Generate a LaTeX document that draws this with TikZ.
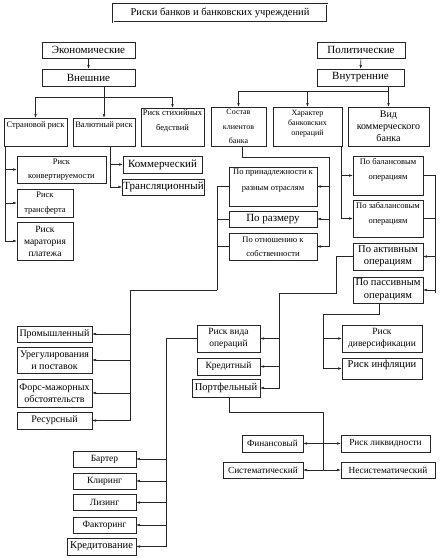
\documentclass[tikz,border=0pt]{standalone}
\usepackage{fontspec}
\setmainfont{Liberation Serif}
\usetikzlibrary{arrows.meta}

\begin{document}
\begin{tikzpicture}[
    x=1pt, y=-1pt,
    box/.style={draw=black!85, line width=0.6pt, align=center, inner sep=1pt, outer sep=0pt},
    wh/.style 2 args={minimum width=#1pt, minimum height=#2pt},
    fs/.style 2 args={font=\fontsize{#1}{#2}\selectfont},
    lift/.style={text depth=#1pt},
    conn/.style={draw=black!85, line width=0.6pt},
    >={Latex[length=4pt,width=2.6pt]}
]
    \useasboundingbox (0,0) rectangle (446,558);

    \node[box, double, double distance=1pt, wh={214}{18}, fs={10.5}{13}] (title) at (220,13) {Риски банков и банковских учреждений};

    \node[box, wh={93}{16}, fs={11}{13}] (econ) at (88.5,50) {Экономические};
    \node[box, wh={93}{17}, fs={11}{13}] (ext) at (88.5,77.5) {Внешние};
    \node[box, wh={88}{16}, fs={11}{13}] (pol) at (361,50) {Политические};
    \node[box, wh={87}{17}, fs={11}{13}] (int) at (360.5,77.5) {Внутренние};

    % second row
    \node[box, wh={63}{28}, fs={8.5}{9}, lift=14] (country) at (35.5,132) {Страновой риск};
    \node[box, wh={62}{28}, fs={8.5}{9}, lift=14] (currency) at (104,132) {Валютный риск};
    \node[box, wh={63}{38}, fs={8.5}{15}, lift=13] (natural) at (172.5,127) {Риск стихийных\\бедствий};
    \node[box, wh={55}{39}, fs={8}{14.5}] (clients) at (238.5,126.5) {Состав\\клиентов\\банка};
    \node[box, wh={69}{39}, fs={8}{10}, lift=8] (charact) at (307.5,126.5) {Характер\\банковских\\операций};
    \node[box, wh={81}{39}, fs={10}{12}] (view) at (388.5,126.5) {Вид\\коммерческого\\банка};

    % external risks
    \node[box, wh={89}{27}, fs={8.5}{14}] (conv) at (61.5,169.5) {Риск\\конвертируемости};
    \node[box, wh={56}{28}, fs={8.5}{15}] (transf) at (45,203) {Риск\\трансферта};
    \node[box, wh={56}{38}, fs={9.5}{12}] (morat) at (45,241) {Риск\\маратория\\платежа};
    \node[box, wh={79}{17}, fs={11}{12}] (comm) at (162.5,164.5) {Коммерческий};
    \node[box, wh={81}{16}, fs={11}{12}] (transl) at (163.5,187) {Трансляционный};

    % clients
    \node[box, wh={88}{39}, fs={8.5}{16}, lift=13] (branch) at (273,186.5) {По принадлежности к\\разным отраслям};
    \node[box, wh={88}{16}, fs={11}{12}] (size) at (273,219) {По размеру};
    \node[box, wh={88}{27}, fs={8.5}{14}] (owner) at (273,246.5) {По отношению к\\собственности};

    % operations
    \node[box, wh={70}{39}, fs={8.5}{15}, lift=14] (bal) at (388,175.5) {По балансовым\\операциям};
    \node[box, wh={70}{37}, fs={8.5}{15}, lift=12] (offbal) at (388,218.5) {По забалансовым\\операциям};
    \node[box, wh={70}{27}, fs={10.5}{12}] (active) at (388,256.5) {По активным\\операциям};
    \node[box, wh={70}{26}, fs={10.5}{13}] (passive) at (388,290) {По пассивным\\операциям};

    \foreach \n/\y/\h/\t in {ind/334/16/Промышленный, settle/360/26/{Урегулирования\\и поставок},
        force/393/28/{Форс-мажорных\\обстоятельств}, res/420.5/17/Ресурсный} {
        \node[box, wh={75}{\h}, fs={10}{12}] (\n) at (54.5,\y) {\t};
    }

    \node[box, wh={63}{27}, fs={9.5}{12}] (optype) at (228.5,338.5) {Риск вида\\операций};
    \node[box, wh={63}{17}, fs={9.5}{12}] (credit) at (228.5,366.5) {Кредитный};
    \node[box, wh={68}{18}, fs={10.5}{12}] (portf) at (226,388) {Портфельный};
    \node[box, wh={80}{27}, fs={9.5}{12}] (divers) at (382,338.5) {Риск\\диверсификации};
    \node[box, wh={80}{21}, fs={10.5}{12}, lift=9] (infl) at (382,368.5) {Риск инфляции};

    \foreach \n/\y/\t in {barter/459/Бартер, clear/481/Клиринг, leasing/502.5/Лизинг, factor/525/Факторинг} {
        \node[box, wh={63}{16}, fs={9.5}{11}] (\n) at (104.5,\y) {\t};
    }
    \node[box, wh={69}{17}, fs={10.5}{11}] (lending) at (101.5,546.5) {Кредитование};

    \node[box, wh={61}{17}, fs={9.3}{10}] (fin) at (272.5,443.5) {Финансовый};
    \node[box, wh={80}{16}, fs={9.3}{10}] (syst) at (263,470) {Систематический};
    \node[box, wh={89}{17}, fs={9.3}{10}] (liq) at (385.5,443.5) {Риск ликвидности};
    \node[box, wh={94}{16}, fs={9.3}{10}] (unsyst) at (388,470) {Несистематический};

    % top buses
    \draw[conn,->] (econ) -- (ext);
    \draw[conn,->] (pol) -- (int);
    \coordinate (busL) at (0,97);
    \coordinate (busR) at (0,91);
    \draw[conn] (currency.north |- ext.south) -- (currency.north |- busL);
    \draw[conn] (country.north |- busL) -- (natural.north |- busL);
    \foreach \n in {country,currency,natural}
        \draw[conn,->] (\n.north |- busL) -- (\n.north);
    \draw[conn] (view.north |- int.south) -- (view.north |- busR);
    \draw[conn] (clients.north |- busR) -- (view.north |- busR);
    \foreach \n in {clients,charact,view}
        \draw[conn,->] (\n.north |- busR) -- (\n.north);

    \foreach \n in {conv,transf,morat}
        \draw[conn,->] ([xshift=1.5pt]country.south west) |- (\n.west);
    \foreach \n in {comm,transl}
        \draw[conn,->] ([xshift=6pt]currency.south) |- (\n.west);

    \draw[conn] ([xshift=3.5pt]clients.south) |- (329,157) coordinate (cb);
    \foreach \n in {branch,size,owner}
        \draw[conn,->] (cb) |- (\n.east);
    \coordinate (lb) at (217,290);
    \foreach \n in {branch,size,owner}
        \draw[conn] (\n.west) -| (lb);
    \draw[conn] (lb) -- (130,290) coordinate (la);
    \foreach \n in {ind,settle,force,res}
        \draw[conn,->] (la) |- (\n.east);

    \foreach \n in {bal,offbal}
        \draw[conn,->] ([xshift=-0.5pt]charact.south east) |- (\n.west);
    \draw[conn] (bal.east) -| (435,293) coordinate (rb);
    \draw[conn] (offbal.east) -- (offbal.east -| rb);
    \foreach \n in {active,passive}
        \draw[conn,->] (rb |- bal.east) |- (\n.east);

    \draw[conn] (active.west) -- ++(-17,0) |- (279,293) coordinate (ob);
    \foreach \n in {optype,credit,portf}
        \draw[conn,->] (ob) |- (\n.east);
    \draw[conn] (optype.west) -- ++(-31,0) coordinate (ol);
    \foreach \n in {barter,clear,leasing,factor,lending}
        \draw[conn,->] (ol) |- (\n.east);

    \draw[conn] ([xshift=-9pt]passive.south) |- (323,314) coordinate (pb);
    \foreach \n in {divers,infl}
        \draw[conn,->] (pb) |- (\n.west);

    \draw[conn] ([xshift=3pt]portf.south) |- (323,412) coordinate (fb) -- (fb |- syst.east);
    \draw[conn,<->] (fin.east) -- (liq.west);
    \draw[conn,<->] (syst.east) -- (unsyst.west);
\end{tikzpicture}
\end{document}
